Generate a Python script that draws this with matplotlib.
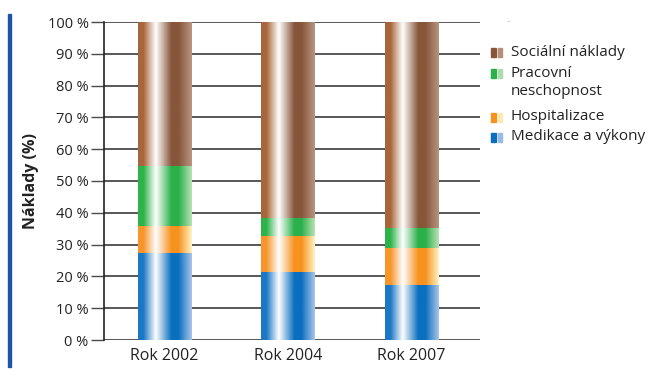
import matplotlib
matplotlib.use("Agg")
import matplotlib.pyplot as plt
import numpy as np
from matplotlib.colors import to_rgb
from matplotlib.patches import Rectangle

categories = ["Rok 2002", "Rok 2004", "Rok 2007"]
medikace = [27.3, 21.3, 17.2]
hospitalizace = [8.7, 11.3, 11.7]
pracovni = [18.7, 5.7, 6.2]
socialni = [45.3, 61.7, 64.9]
series_names = ["Medikace a výkony", "Hospitalizace", "Pracovní\nneschopnost", "Sociální náklady"]
yticks = [0, 10, 20, 30, 40, 50, 60, 70, 80, 90, 100]
ytick_labels = [f"{v} %" for v in yticks]

# gradient palettes: (left, dark, right)
palettes = [
    ("#1b78c6", "#0a6fbf", "#a9c5ea"),
    ("#f7952a", "#f6921e", "#fff3c4"),
    ("#2db34a", "#2bb04a", "#b9e2b5"),
    ("#a9653b", "#87563a", "#b99480"),
]

plt.rcParams['font.family'] = ['Open Sans', 'DejaVu Sans']

fig = plt.figure(figsize=(6.47, 3.76), dpi=100)
ax = fig.add_axes([104/647, 1-340/376, 376/647, 318/376])

def gradient(pal, n=200):
    left, dark, right = [np.array(to_rgb(c)) for c in pal]
    white = np.array([1.0, 1.0, 1.0])
    stops = [(0.0, left), (0.10, left), (0.33, white), (0.62, dark), (0.75, dark), (1.0, right)]
    t = np.linspace(0, 1, n)
    img = np.zeros((1, n, 3))
    for i, tv in enumerate(t):
        for (a, ca), (b, cb) in zip(stops[:-1], stops[1:]):
            if a <= tv <= b:
                f = 0 if b == a else (tv - a) / (b - a)
                img[0, i] = ca * (1 - f) + cb * f
                break
    return img

x = np.arange(len(categories))
width = 0.43
bottom = np.zeros(len(categories))
for vals, pal in zip([medikace, hospitalizace, pracovni, socialni], palettes):
    bars = ax.bar(x, vals, width, bottom=bottom, color='none', edgecolor='none', zorder=3)
    img = gradient(pal)
    for b in bars:
        x0, y0 = b.get_x(), b.get_y()
        ax.imshow(img, extent=[x0, x0 + b.get_width(), y0, y0 + b.get_height()],
                  aspect='auto', zorder=3, interpolation='bilinear')
    bottom += np.array(vals)

ax.set_xlim(-0.49, 2.555)
ax.set_ylim(0, 100)
ax.set_yticks(yticks)
ax.set_yticklabels(ytick_labels, fontsize=10.5, color='#222222')
ax.set_xticks(x)
ax.set_xticklabels(categories, fontsize=11.5, color='#222222')
ax.yaxis.grid(True, color='#4a4a4a', linewidth=1.3, zorder=1)
ax.set_axisbelow(True)
ax.tick_params(axis='y', length=9.5, width=1.0, color='#4a4a4a', pad=1.5)
ax.tick_params(axis='x', length=0, pad=6)
for s in ['top', 'right', 'bottom']:
    ax.spines[s].set_visible(False)
ax.spines['left'].set_color('#222222')
ax.spines['left'].set_linewidth(1.2)
ax.set_ylabel("Náklady (%)", fontsize=11.5, fontweight='bold', color='#222222', labelpad=6)

# left blue bar
fig.patches.append(Rectangle((8/647, 1-367/376), 3/647, 353/376, transform=fig.transFigure,
                             color='#1d55a6', zorder=0))

# legend
leg_y = [52, 73, 117, 137]
leg_order = [3, 2, 1, 0]
for yy, idx in zip(leg_y, leg_order):
    img = gradient(palettes[idx], 40)
    c1 = img[0, 27]
    c2 = img[0, 38]
    for dx, c in [(491, c1), (497.5, c2)]:
        fig.patches.append(Rectangle((dx/647, 1-(yy+4.5)/376), 4.5/647, 9/376,
                                     transform=fig.transFigure, color=c))
    if idx != 2:
        fig.text(511/647, 1-yy/376, series_names[idx], fontsize=11, color='#222222',
                 va='center', ha='left', transform=fig.transFigure)
    else:
        fig.text(511/647, 1-(yy-7)/376, series_names[idx], fontsize=11, color='#222222',
                 va='top', ha='left', linespacing=1.3, transform=fig.transFigure)
fig.text(507/647, 1-20/376, ".", fontsize=5, color='#444444', ha='left', va='center')

fig.savefig("out.png", dpi=100)
